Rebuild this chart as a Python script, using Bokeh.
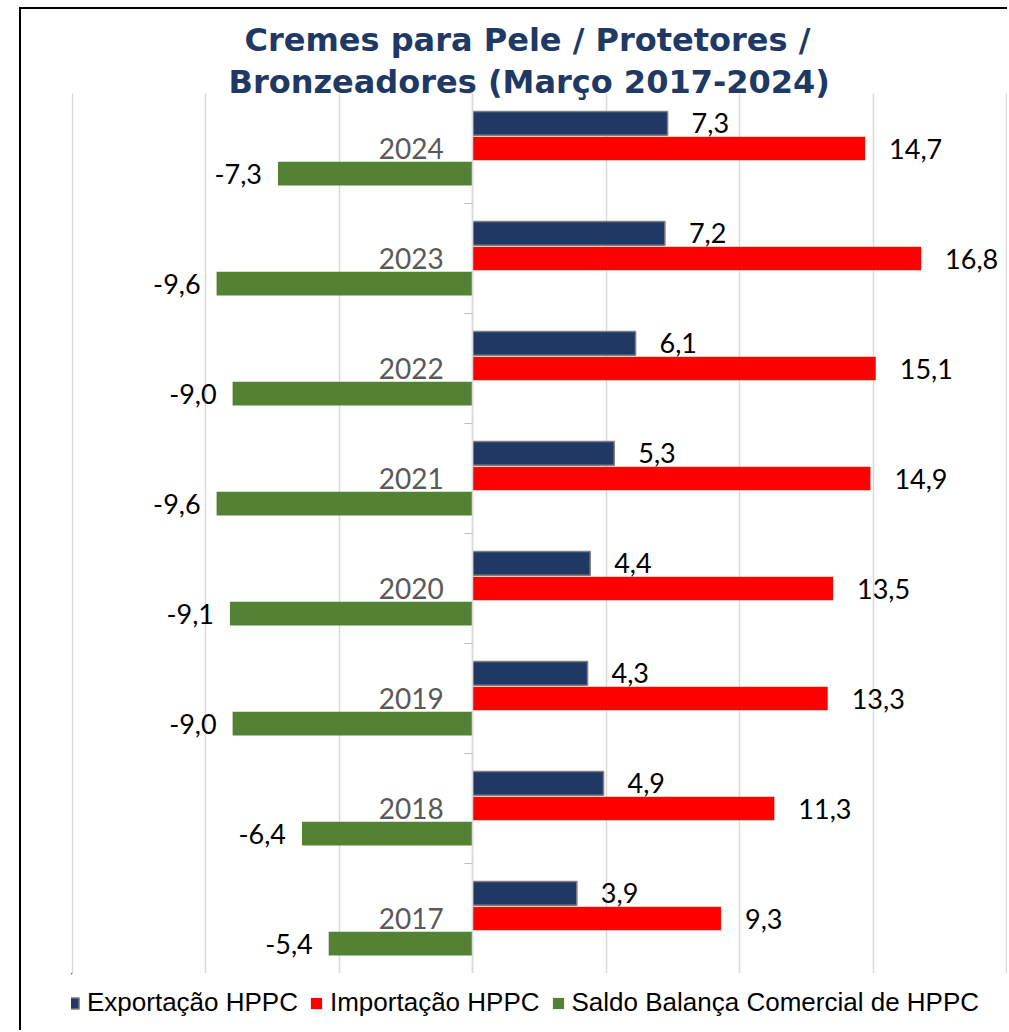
from bokeh.plotting import figure
from bokeh.layouts import column
from bokeh.models import ColumnDataSource, FixedTicker, Legend, LegendItem, Title, Range1d
from bokeh.transform import dodge
from bokeh.core.properties import value
from bokeh.embed import file_html
from bokeh.resources import INLINE

years = ["2017", "2018", "2019", "2020", "2021", "2022", "2023", "2024"]
exportacao = [3.9, 4.9, 4.3, 4.4, 5.3, 6.1, 7.2, 7.3]
importacao = [9.3, 11.3, 13.3, 13.5, 14.9, 15.1, 16.8, 14.7]
saldo = [-5.4, -6.4, -9.0, -9.1, -9.6, -9.0, -9.6, -7.3]
x_ticks = [-15, -10, -5, 0, 5, 10, 15, 20]
series_names = ["Exportação HPPC", "Importação HPPC", "Saldo Balança Comercial de HPPC"]
series_colors = ["#203864", "#ff0000", "#548235"]
title_lines = ["Cremes para Pele / Protetores /", "Bronzeadores (Março 2017-2024)"]


def fmt(v):
    return f"{v:.1f}".replace(".", ",")


idx = list(range(len(years)))
src = ColumnDataSource(dict(
    idx=idx, year=years,
    exp=exportacao, imp=importacao, sal=saldo,
    exp_lbl=[fmt(v) for v in exportacao],
    imp_lbl=[fmt(v) for v in importacao],
    sal_lbl=[fmt(v) for v in saldo],
))

LABEL_FONT = "Lato"
TITLE_FONT = "DejaVu Sans"
LEGEND_FONT = "Liberation Sans"

W = 986
p = figure(width=W, height=964,
           x_range=Range1d(-15.037, 20.037), y_range=Range1d(-0.5, len(years) - 0.5),
           output_backend="svg", toolbar_location=None,
           min_border_left=50, min_border_right=0, min_border_top=84, min_border_bottom=0)
p.outline_line_color = None
p.background_fill_color = "white"
p.border_fill_color = "white"

# grid
p.xaxis.ticker = FixedTicker(ticks=x_ticks)
p.xaxis.visible = False
p.xgrid.ticker = FixedTicker(ticks=x_ticks)
p.xgrid.grid_line_color = "#d9d9d9"
p.xgrid.grid_line_width = 1.5
p.ygrid.grid_line_color = None

# category axis at x = 0
yax = p.yaxis[0]
yax.fixed_location = 0
yax.ticker = FixedTicker(ticks=idx, minor_ticks=[i - 0.5 for i in idx] + [len(idx) - 0.5])
yax.major_label_overrides = {i: y for i, y in zip(idx, years)}
yax.major_tick_line_color = None
yax.major_tick_out = 0
yax.major_tick_in = 0
yax.minor_tick_line_color = "#bfbfbf"
yax.minor_tick_out = 8
yax.minor_tick_in = 0
yax.axis_line_color = "#d9d9d9"
yax.axis_line_width = 1.5
yax.major_label_standoff = 21
yax.major_label_text_font = LABEL_FONT
yax.major_label_text_font_size = "28px"
yax.major_label_text_color = "#595959"

off = 0.228
bh = 0.215
r_exp = p.hbar(y=dodge("idx", off), left=0, right="exp", height=bh, source=src,
               fill_color=series_colors[0], line_color="#7f7f7f", line_width=1.5)
r_imp = p.hbar(y=dodge("idx", 0), left=0, right="imp", height=bh, source=src,
               fill_color=series_colors[1], line_color=None)
r_sal = p.hbar(y=dodge("idx", -off), left=0, right="sal", height=bh, source=src,
               fill_color=series_colors[2], line_color=None)

common = dict(source=src, text_baseline="middle", text_font=value(LABEL_FONT),
              text_font_size="27px", text_color="black")
p.text(x="exp", y=dodge("idx", off), text="exp_lbl", x_offset=24, text_align="left", **common)
p.text(x="imp", y=dodge("idx", 0), text="imp_lbl", x_offset=24, text_align="left", **common)
p.text(x="sal", y=dodge("idx", -off), text="sal_lbl", x_offset=-16, text_align="right", **common)

# two title lines (inner line added first), left-aligned with offsets that centre them
for line, so, offx in ((title_lines[1], -14, 157), (title_lines[0], 17, 173)):
    p.add_layout(Title(text=line, align="left", offset=offx, standoff=so,
                       text_font=TITLE_FONT, text_font_style="bold",
                       text_font_size="32px", text_color="#203864"), "above")

# legend strip below the chart (its swatch renderers lie outside its ranges)
pl = figure(width=W, height=57, x_range=Range1d(100, 101), y_range=Range1d(-20, -19),
            output_backend="svg", toolbar_location=None, min_border=0,
            x_axis_location=None, y_axis_location=None)
pl.grid.visible = False
pl.outline_line_color = None
pl.border_fill_color = "white"
pl.background_fill_color = "white"
lr_exp = pl.hbar(y="idx", left=0, right="exp", height=bh, source=src,
                 fill_color=series_colors[0], line_color="#7f7f7f", line_width=1.5)
lr_imp = pl.hbar(y="idx", left=0, right="imp", height=bh, source=src,
                 fill_color=series_colors[1], line_color=None)
lr_sal = pl.hbar(y="idx", left=0, right="sal", height=bh, source=src,
                 fill_color=series_colors[2], line_color=None)
legend = Legend(items=[LegendItem(label=series_names[0], renderers=[lr_exp]),
                       LegendItem(label=series_names[1], renderers=[lr_imp]),
                       LegendItem(label=series_names[2], renderers=[lr_sal])],
                orientation="horizontal", location=(-5, 12),
                label_text_font=LEGEND_FONT, label_text_font_size="26px",
                label_text_color="black",
                glyph_width=14, glyph_height=14, label_standoff=7, spacing=11,
                border_line_color=None, background_fill_alpha=0, margin=0, padding=0)
pl.add_layout(legend, "center")

layout = column(p, pl, spacing=0,
                styles={"border-left": "2px solid black", "border-top": "2px solid black",
                        "margin-left": "19px", "margin-top": "7px"})

open("out.html", "w").write(file_html(layout, INLINE))
